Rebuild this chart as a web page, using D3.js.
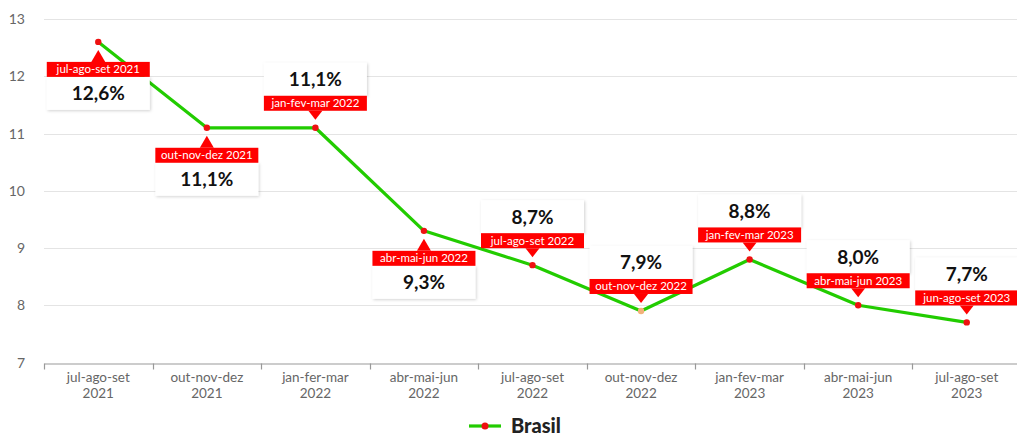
<!DOCTYPE html>
<html>
  <head>
    <style>
    body {
      font-family: "Lato", "Open Sans", sans-serif;
      margin: 0;
      background: #fff;
    }
    </style>
  </head>
  <body>
    <script src="https://d3js.org/d3.v7.min.js"></script>
    <script>
    var width = 1017, height = 436;

    // categories on the x axis (two lines each)
    var axisLabels = [
      ["jul-ago-set", "2021"], ["out-nov-dez", "2021"], ["jan-fer-mar", "2022"],
      ["abr-mai-jun", "2022"], ["jul-ago-set", "2022"], ["out-nov-dez", "2022"],
      ["jan-fev-mar", "2023"], ["abr-mai-jun", "2023"], ["jul-ago-set", "2023"]
    ];
    // tag text shown on each data label
    var tagLabels = [
      "jul-ago-set 2021", "out-nov-dez 2021", "jan-fev-mar 2022",
      "abr-mai-jun 2022", "jul-ago-set 2022", "out-nov-dez 2022",
      "jan-fev-mar 2023", "abr-mai-jun 2023", "jun-ago-set 2023"
    ];
    var values = [12.6, 11.1, 11.1, 9.3, 8.7, 7.9, 8.8, 8.0, 7.7];
    // label placement: "below" the point or "above"
    var labelSide = ["below", "below", "above", "below", "above", "above", "above", "above", "above"];
    var yTicks = [7, 8, 9, 10, 11, 12, 13];

    var margin = {left: 44, top: 19, bottom: 73};

    var svg = d3.select("body").append("svg")
        .attr("width", width)
        .attr("height", height);

    var defs = svg.append("defs");
    var f = defs.append("filter").attr("id", "shadow")
        .attr("x", "-10%").attr("y", "-20%").attr("width", "130%").attr("height", "150%");
    f.append("feDropShadow").attr("dx", 1).attr("dy", 1).attr("stdDeviation", 1.5)
        .attr("flood-color", "#000").attr("flood-opacity", 0.18);

    var x = d3.scaleBand()
        .domain(d3.range(values.length))
        .range([margin.left, 1021])
        .padding(0);

    var y = d3.scaleLinear()
        .domain([7, 13])
        .range([height - margin.bottom - 0.5, margin.top]);

    // grid lines
    svg.append("g").selectAll("line")
        .data(yTicks.filter(function(d) { return d > 7; }))
      .enter().append("line")
        .attr("x1", margin.left).attr("x2", width)
        .attr("y1", function(d) { return Math.round(y(d)) + 0.5; })
        .attr("y2", function(d) { return Math.round(y(d)) + 0.5; })
        .attr("stroke", "#e4e4e4")
        .attr("stroke-width", 1.2);

    // y tick labels
    svg.append("g").selectAll("text")
        .data(yTicks)
      .enter().append("text")
        .attr("x", 25)
        .attr("y", function(d) { return y(d) + 5; })
        .attr("text-anchor", "end")
        .attr("fill", "#666")
        .style("font-size", "14px")
        .text(function(d) { return d; });

    // x axis
    var axisY = Math.round(y(7)) + 0.5;
    var xAxis = d3.axisBottom(x).tickSize(0).tickFormat("");
    var gx = svg.append("g").attr("transform", "translate(0," + axisY + ")").call(xAxis);
    gx.select(".domain").attr("stroke", "#999").attr("stroke-width", 1.2);

    svg.append("g").selectAll("line")
        .data(d3.range(values.length))
      .enter().append("line")
        .attr("x1", function(d) { return Math.round(x(d)) + 0.5; })
        .attr("x2", function(d) { return Math.round(x(d)) + 0.5; })
        .attr("y1", axisY).attr("y2", axisY + 6)
        .attr("stroke", "#999").attr("stroke-width", 1.2);

    var xl = svg.append("g").selectAll("text")
        .data(axisLabels)
      .enter().append("text")
        .attr("x", function(d, i) { return x(i) + x.bandwidth() / 2; })
        .attr("y", axisY + 18)
        .attr("text-anchor", "middle")
        .attr("fill", "#666")
        .style("font-size", "13.5px");
    xl.append("tspan").attr("x", function(d, i) { return x(i) + x.bandwidth() / 2; })
        .text(function(d) { return d[0]; });
    xl.append("tspan").attr("x", function(d, i) { return x(i) + x.bandwidth() / 2; })
        .attr("dy", 16).text(function(d) { return d[1]; });

    // line
    var line = d3.line()
        .x(function(d, i) { return x(i) + x.bandwidth() / 2; })
        .y(function(d) { return y(d); });

    svg.append("path")
        .datum(values)
        .attr("d", line)
        .attr("fill", "none")
        .attr("stroke", "#22cc00")
        .attr("stroke-width", 3.2)
        .attr("stroke-linejoin", "round");

    svg.append("g").selectAll("circle")
        .data(values)
      .enter().append("circle")
        .attr("cx", function(d, i) { return x(i) + x.bandwidth() / 2; })
        .attr("cy", function(d) { return y(d); })
        .attr("r", 3.2)
        .attr("fill", function(d, i) { return i === 5 ? "#f2b27a" : "#ee1111"; });

    // data labels
    var boxW = 103, boxH = 33, tagH = 15;
    var labels = svg.append("g").selectAll("g")
        .data(values)
      .enter().append("g")
        .attr("transform", function(d, i) {
          return "translate(" + (x(i) + x.bandwidth() / 2) + "," + y(d) + ")";
        });

    labels.each(function(d, i) {
      var g = d3.select(this);
      var below = labelSide[i] === "below";
      var tagTop, boxTop, arrow;
      if (below) {
        tagTop = 20; boxTop = tagTop + tagH;
        arrow = "M-7," + tagTop + " L0," + 8 + " L7," + tagTop + "Z";
      } else {
        tagTop = -17 - tagH; boxTop = tagTop - boxH;
        arrow = "M-7," + (tagTop + tagH) + " L0," + (-8) + " L7," + (tagTop + tagH) + "Z";
      }
      g.append("rect")
        .attr("x", -boxW / 2).attr("y", boxTop)
        .attr("width", boxW).attr("height", boxH)
        .attr("fill", "#fff")
        .attr("filter", "url(#shadow)");
      g.append("path").attr("d", arrow).attr("fill", "#ff0000");
      g.append("rect")
        .attr("x", -boxW / 2).attr("y", tagTop)
        .attr("width", boxW).attr("height", tagH)
        .attr("fill", "#ff0000");
      g.append("text")
        .attr("x", 0).attr("y", tagTop + 11.5)
        .attr("text-anchor", "middle")
        .attr("fill", "#fff")
        .style("font-size", "11.5px")
        .text(tagLabels[i]);
      g.append("text")
        .attr("x", 0).attr("y", boxTop + 23.5)
        .attr("text-anchor", "middle")
        .attr("fill", "#111")
        .style("font-size", "19px")
        .style("font-weight", "bold")
        .text(d3.format(".1f")(d).replace(".", ",") + "%");
    });

    // legend
    var lg = svg.append("g").attr("transform", "translate(469,426)");
    lg.append("line").attr("x1", 0).attr("x2", 32).attr("y1", 0).attr("y2", 0)
        .attr("stroke", "#22cc00").attr("stroke-width", 3.2);
    lg.append("circle").attr("cx", 16).attr("cy", 0).attr("r", 3.5).attr("fill", "#ee1111");
    lg.append("text").attr("x", 42).attr("y", 7)
        .attr("fill", "#222")
        .style("font-size", "20px")
        .style("font-weight", "900")
        .text("Brasil");
    </script>
  </body>
</html>
